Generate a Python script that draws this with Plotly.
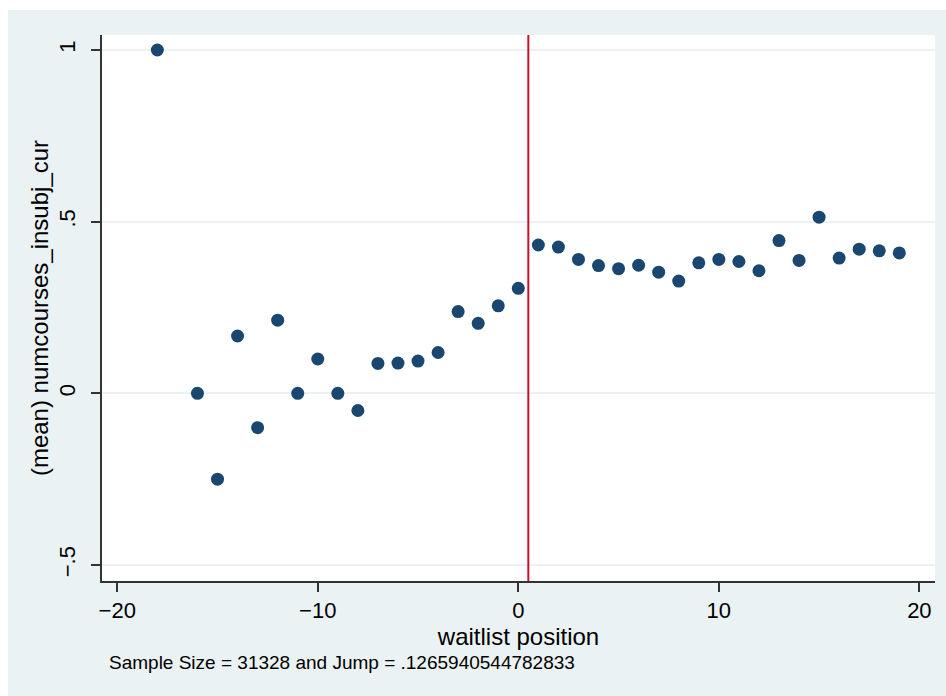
import plotly.graph_objects as go

# waitlist position (x) and mean numcourses_insubj_cur (y)
positions = [-18, -16, -15, -14, -13, -12, -11, -10, -9, -8, -7, -6, -5, -4, -3, -2, -1, 0,
             1, 2, 3, 4, 5, 6, 7, 8, 9, 10, 11, 12, 13, 14, 15, 16, 17, 18, 19]
means = [1.0, 0.0, -0.25, 0.167, -0.1, 0.213, 0.0, 0.1, 0.0, -0.05, 0.087, 0.088, 0.094, 0.119,
         0.238, 0.204, 0.255, 0.306,
         0.432, 0.426, 0.390, 0.372, 0.363, 0.373, 0.353, 0.327, 0.380, 0.390, 0.384, 0.357,
         0.445, 0.387, 0.513, 0.394, 0.420, 0.415, 0.409]
cutoff = 0.5
x_ticks = [-20, -10, 0, 10, 20]
x_tick_labels = ["\u221220", "\u221210", "0", "10", "20"]
y_ticks = [-0.5, 0, 0.5, 1]
y_tick_labels = ["\u2212.5", "0", ".5", "1"]
note = "Sample Size = 31328 and Jump = .1265940544782833"

W, H = 946, 696
L, R, T, B = 102, 935, 35, 581
pw, ph = R - L, B - T

def px(xp):
    return (xp - L) / pw

def py(yp):
    return (B - yp) / ph

BG = "#eaf2f3"
FONT = "Liberation Sans, Arial, Helvetica, sans-serif"

fig = go.Figure()
fig.add_trace(go.Scatter(
    x=positions, y=means, mode="markers",
    marker=dict(color="#1a476f", size=13, line=dict(width=0)),
    showlegend=False, cliponaxis=False,
))

fig.update_layout(
    width=W, height=H,
    margin=dict(l=L, r=W - R, t=T, b=H - B, pad=0),
    paper_bgcolor="white", plot_bgcolor="white",
    font=dict(family=FONT, color="black", size=22),
    shapes=[
        dict(type="rect", xref="paper", yref="paper", x0=px(8), x1=px(W), y0=py(H), y1=py(10),
             fillcolor=BG, line=dict(width=0), layer="below"),
        dict(type="rect", xref="paper", yref="paper", x0=0, x1=1, y0=0, y1=1,
             fillcolor="white", line=dict(width=0), layer="below"),
        dict(type="line", xref="x", yref="paper", x0=cutoff, x1=cutoff, y0=0, y1=1,
             line=dict(color="#c4122f", width=2)),
    ],
    annotations=[
        dict(text=note, xref="paper", yref="paper", x=px(107), y=py(662),
             xanchor="left", yanchor="middle", showarrow=False,
             font=dict(size=19, family=FONT, color="black")),
    ],
)

fig.update_xaxes(
    range=[-20.76, 20.78], tickvals=x_ticks, ticktext=x_tick_labels,
    showgrid=False, zeroline=False,
    showline=True, linecolor="#333333", linewidth=1.5,
    ticks="outside", ticklen=9, tickwidth=1.5, tickcolor="#333333",
    tickfont=dict(size=22),
    title=dict(text="waitlist position", font=dict(size=24), standoff=2),
)
fig.update_yaxes(
    range=[-0.5466, 1.0437], tickvals=y_ticks, ticktext=y_tick_labels,
    showgrid=True, gridcolor=BG, gridwidth=1.5, zeroline=False,
    showline=True, linecolor="#333333", linewidth=1.5,
    ticks="outside", ticklen=9, tickwidth=1.5, tickcolor="#333333",
    tickangle=-90, tickfont=dict(size=22), ticklabelstandoff=7,
    title=dict(text="(mean) numcourses_insubj_cur", font=dict(size=24), standoff=0),
)

fig.write_html("out.html")
